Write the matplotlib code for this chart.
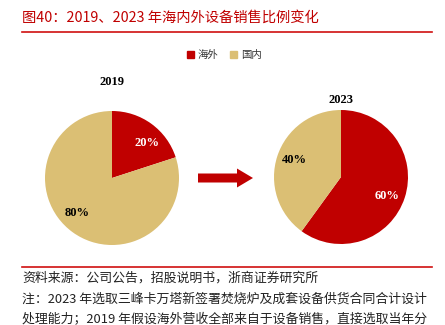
import numpy as np
import matplotlib.pyplot as plt
from matplotlib.patches import FancyArrow, Rectangle

plt.rcParams['font.family'] = ['Noto Sans CJK SC', 'DejaVu Sans']

# 数据
categories = ['海外', '国内']
years = ['2019', '2023']
share_2019 = [20, 80]
share_2023 = [60, 40]
colors = ['#C00000', '#DBBF74']
pct_colors = ['white', 'black']

title = '图40：2019、2023 年海内外设备销售比例变化'
notes = ['资料来源：公司公告，招股说明书，浙商证券研究所',
         '注：2023 年选取三峰卡万塔新签署焚烧炉及成套设备供货合同合计设计',
         '处理能力；2019 年假设海外营收全部来自于设备销售，直接选取当年分']

W, H = 445, 325
fig = plt.figure(figsize=(W / 100, H / 100), dpi=100)

# 背景层, 像素坐标
bg = fig.add_axes([0, 0, 1, 1])
bg.set_xlim(0, W)
bg.set_ylim(H, 0)
bg.axis('off')

bg.text(22, 18, title, color='#C00000', fontsize=10.3, va='center', ha='left')
bg.plot([22, 432], [32, 32], color='#D01010', lw=1.2)
bg.plot([22, 432], [267, 267], color='#D01010', lw=1.2)

# 图例
lx = 187
for c, name in zip(colors, categories):
    bg.add_patch(Rectangle((lx, 51), 7, 7, color=c))
    bg.text(lx + 11, 55, name, fontsize=7.5, va='center', ha='left', color='#333333')
    lx += 43

for i, line in enumerate(notes):
    bg.text(22, 278 + i * 21, line, fontsize=9.3, va='center', ha='left', color='#222222')

# 箭头
bg.add_patch(FancyArrow(198, 178, 55, 0, width=9, head_width=19,
                        head_length=16, length_includes_head=True,
                        color='#C00000', lw=0))


def draw_pie(rect, values, year, year_y, label_angles=None):
    ax = fig.add_axes(rect)
    wedges, texts, autotexts = ax.pie(
        values, colors=colors, startangle=90, counterclock=False,
        autopct='%d%%', pctdistance=0.73, radius=1)
    for k, (t, c) in enumerate(zip(autotexts, pct_colors)):
        t.set_color(c)
        t.set_fontfamily(['Liberation Serif'])
        t.set_fontweight('bold')
        t.set_fontsize(9)
        if label_angles is not None:
            a = np.deg2rad(label_angles[k])
            t.set_position((0.74 * np.cos(a), 0.74 * np.sin(a)))
    ax.set_xlim(-1, 1)
    ax.set_ylim(-1, 1)
    ax.set_aspect('equal')
    cx = rect[0] * W + rect[2] * W / 2
    bg.text(cx, year_y, year, fontsize=9, fontweight='bold',
            fontfamily=['Liberation Serif'], ha='center', va='center')


draw_pie([45 / W, (H - 245) / H, 134 / W, 134 / H], share_2019, years[0], 82,
         label_angles=[45, 225])
draw_pie([274 / W, (H - 244) / H, 134 / W, 134 / H], share_2023, years[1], 100,
         label_angles=[-22, 160])

fig.savefig('out.png', dpi=100)
